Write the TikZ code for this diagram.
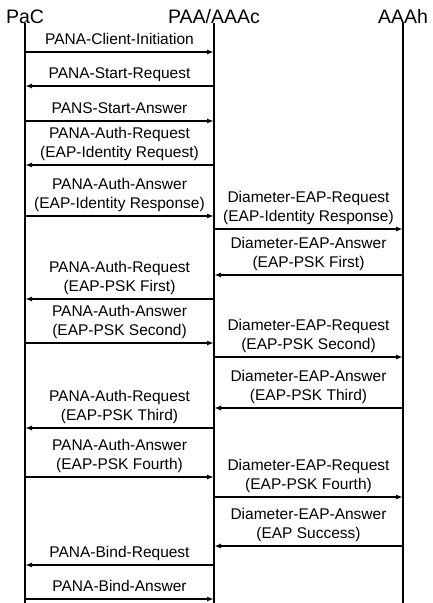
\documentclass[tikz,border=0pt]{standalone}
\usepackage{fontspec}
\setsansfont{Liberation Sans}
\usetikzlibrary{arrows.meta}
\begin{document}
\begin{tikzpicture}[x=1pt,y=-1pt,>={Latex[length=7pt,width=5pt]},font=\sffamily,
  life/.style={line width=1.6pt},
  msg/.style={->,line width=1.4pt},
  lbl/.style={above=2pt,inner sep=2pt,text depth=3pt,align=center,font=\sffamily\fontsize{15.5}{19}\selectfont},
  head/.style={anchor=base,inner sep=0pt,font=\sffamily\fontsize{19.5}{22}\selectfont}]
\useasboundingbox (0,0) rectangle (433,603);
\node[head] (pac) at (25,23){PaC}; \node[head] (paa) at (214,23){PAA/AAAc}; \node[head] (aaah) at (403,23){AAAh};
\draw[life] (pac.south) -- (pac |- 0,603); \draw[life] (paa.south) -- (paa |- 0,603); \draw[life] (aaah.south) -- (aaah |- 0,603);
\draw[msg] (pac |- 0,52) -- (paa |- 0,52) node[lbl,midway] (ci){PANA-Client-Initiation};
\draw[msg] (paa |- 0,86) -- (pac |- 0,86) node[lbl,midway] (sreq){PANA-Start-Request};
\draw[msg] (pac |- 0,121) -- (paa |- 0,121) node[lbl,midway] (sans){PANS-Start-Answer};
\draw[msg] (paa |- 0,165) -- (pac |- 0,165) node[lbl,midway] (areq1){PANA-Auth-Request\\(EAP-Identity Request)};
\draw[msg] (pac |- 0,216) -- (paa |- 0,216) node[lbl,midway] (aans1){PANA-Auth-Answer\\(EAP-Identity Response)};
\draw[msg] (paa |- 0,229) -- (aaah |- 0,229) node[lbl,midway] (dreq1){Diameter-EAP-Request\\(EAP-Identity Response)};
\draw[msg] (aaah |- 0,275) -- (paa |- 0,275) node[lbl,midway] (dans1){Diameter-EAP-Answer\\(EAP-PSK First)};
\draw[msg] (paa |- 0,299) -- (pac |- 0,299) node[lbl,midway] (areq2){PANA-Auth-Request\\(EAP-PSK First)};
\draw[msg] (pac |- 0,343) -- (paa |- 0,343) node[lbl,midway] (aans2){PANA-Auth-Answer\\(EAP-PSK Second)};
\draw[msg] (paa |- 0,357) -- (aaah |- 0,357) node[lbl,midway] (dreq2){Diameter-EAP-Request\\(EAP-PSK Second)};
\draw[msg] (aaah |- 0,408) -- (paa |- 0,408) node[lbl,midway] (dans2){Diameter-EAP-Answer\\(EAP-PSK Third)};
\draw[msg] (paa |- 0,428) -- (pac |- 0,428) node[lbl,midway] (areq3){PANA-Auth-Request\\(EAP-PSK Third)};
\draw[msg] (pac |- 0,477) -- (paa |- 0,477) node[lbl,midway] (aans3){PANA-Auth-Answer\\(EAP-PSK Fourth)};
\draw[msg] (paa |- 0,497) -- (aaah |- 0,497) node[lbl,midway] (dreq3){Diameter-EAP-Request\\(EAP-PSK Fourth)};
\draw[msg] (aaah |- 0,546) -- (paa |- 0,546) node[lbl,midway] (dans3){Diameter-EAP-Answer\\(EAP Success)};
\draw[msg] (paa |- 0,565) -- (pac |- 0,565) node[lbl,midway] (breq){PANA-Bind-Request};
\draw[msg] (pac |- 0,599) -- (paa |- 0,599) node[lbl,midway] (bans){PANA-Bind-Answer};
\end{tikzpicture}
\end{document}
